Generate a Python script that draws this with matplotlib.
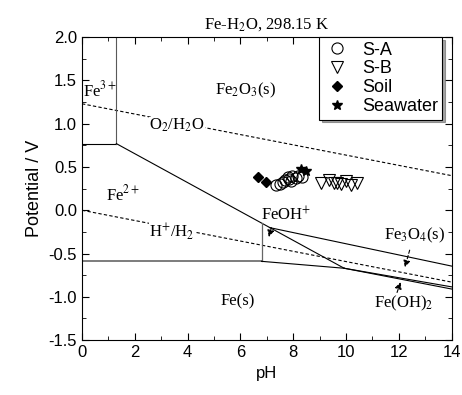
import numpy as np
import matplotlib.pyplot as plt

#%% Données

ph_water = np.array([0, 14])
o2_h2o = np.array([1.23, 0.40])
h_h2 = np.array([0.0, -0.83])

# frontieres du diagramme (pH, E)
fe3_fe2_ph, fe3_fe2_e = [0, 1.3], [0.77, 0.77]
fe3_fe2o3_ph, fe3_fe2o3_e = [1.3, 1.3], [0.77, 2.0]
diag_ph, diag_e = [1.3, 9.93], [0.77, -0.67]
fe2_fe_ph, fe2_fe_e = [0, 6.8], [-0.59, -0.59]
fe2_feoh_ph, fe2_feoh_e = [6.8, 6.8], [-0.59, -0.15]
feoh_fe_ph, feoh_fe_e = [6.8, 9.93], [-0.59, -0.67]
fe2o3_fe3o4_ph, fe2o3_fe3o4_e = [7.1, 14], [-0.20, -0.645]
fe3o4_feoh2_ph, fe3o4_feoh2_e = [9.93, 14], [-0.67, -0.885]
feoh2_fe_ph, feoh2_fe_e = [9.93, 14], [-0.67, -0.91]

# mesures
sa_ph = [7.35, 7.5, 7.6, 7.7, 7.8, 7.85, 7.95, 8.1, 8.2, 8.35, 7.9]
sa_e = [0.29, 0.30, 0.33, 0.35, 0.38, 0.36, 0.40, 0.37, 0.39, 0.38, 0.34]
sb_ph = [9.07, 9.37, 9.56, 9.67, 9.81, 10.0, 10.2, 10.4]
sb_e = [0.31, 0.35, 0.31, 0.32, 0.30, 0.34, 0.29, 0.31]
soil_ph = [6.65, 6.98]
soil_e = [0.38, 0.33]
sea_ph = [8.3, 8.5]
sea_e = [0.48, 0.45]

#%% Graphique

plt.rcParams['font.family'] = ['Liberation Sans', 'DejaVu Sans']
plt.rcParams['mathtext.fontset'] = 'stix'
serif = ['Liberation Serif', 'DejaVu Serif']

fig = plt.figure(figsize=(4.62, 3.95), dpi=100)
ax = fig.add_axes([0.1775, 0.139, 0.8, 0.767])

ax.plot(ph_water, o2_h2o, color='black', lw=0.8, ls=(0, (3, 2)))
ax.plot(ph_water, h_h2, color='black', lw=0.8, ls=(0, (3, 2)))

ax.plot(fe3_fe2_ph, fe3_fe2_e, color='black', lw=0.8)
ax.plot(fe3_fe2o3_ph, fe3_fe2o3_e, color='0.35', lw=0.8)
ax.plot(diag_ph, diag_e, color='black', lw=0.8)
ax.plot(fe2_fe_ph, fe2_fe_e, color='0.4', lw=1.2)
ax.plot(fe2_feoh_ph, fe2_feoh_e, color='0.4', lw=0.9)
ax.plot(feoh_fe_ph, feoh_fe_e, color='black', lw=0.8)
ax.plot(fe2o3_fe3o4_ph, fe2o3_fe3o4_e, color='black', lw=0.8)
ax.plot(fe3o4_feoh2_ph, fe3o4_feoh2_e, color='black', lw=0.8)
ax.plot(feoh2_fe_ph, feoh2_fe_e, color='black', lw=0.8)

ax.plot(sa_ph, sa_e, 'o', mfc='none', mec='black', ms=8, mew=0.8, label='S-A')
ax.plot(sb_ph, sb_e, 'v', mfc='none', mec='black', ms=9, mew=0.8, label='S-B')
ax.plot(soil_ph, soil_e, 'D', color='black', ms=5.5, label='Soil')
ax.plot(sea_ph, sea_e, '*', color='black', ms=7, label='Seawater')

# étiquettes des domaines
fs = 12
ax.text(0.05, 1.38, 'Fe$^{3+}$', fontsize=fs, family=serif, va='center')
ax.text(6.2, 1.38, 'Fe$_2$O$_3$(s)', fontsize=fs, family=serif, ha='center', va='center')
ax.text(3.6, 0.98, 'O$_2$/H$_2$O', fontsize=fs, family=serif, ha='center', va='center',
        bbox=dict(facecolor='white', edgecolor='none', pad=0))
ax.text(1.55, 0.18, 'Fe$^{2+}$', fontsize=fs, family=serif, ha='center', va='center')
ax.text(3.4, -0.24, 'H$^{+}$/H$_2$', fontsize=fs, family=serif, ha='center', va='center',
        bbox=dict(facecolor='white', edgecolor='none', pad=0))
ax.text(7.75, -0.06, 'FeOH$^{+}$', fontsize=fs, family=serif, ha='center', va='center')
ax.text(12.6, -0.29, 'Fe$_3$O$_4$(s)', fontsize=fs, family=serif, ha='center', va='center')
ax.text(5.9, -1.05, 'Fe(s)', fontsize=fs, family=serif, ha='center', va='center')
ax.text(12.2, -1.08, 'Fe(OH)$_2$', fontsize=fs, family=serif, ha='center', va='center')

arrow = dict(arrowstyle='-|>', color='black', lw=0.8, ls=(0, (3, 2)), mutation_scale=10)
ax.annotate('', xy=(7.05, -0.34), xytext=(7.2, -0.17), arrowprops=arrow)
ax.annotate('', xy=(12.2, -0.69), xytext=(12.44, -0.43), arrowprops=arrow)
ax.annotate('', xy=(12.1, -0.80), xytext=(11.9, -0.98), arrowprops=arrow)

ax.set_xlim(0, 14)
ax.set_ylim(-1.5, 2.0)
ax.set_xticks(np.arange(0, 15, 2))
ax.set_xticks(np.arange(0, 15, 1), minor=True)
ax.set_yticks(np.arange(-1.5, 2.01, 0.5))
ax.set_yticks(np.arange(-1.5, 2.01, 0.25), minor=True)
ax.yaxis.set_major_formatter(plt.FormatStrFormatter('%.1f'))
ax.tick_params(which='both', direction='in', top=True, right=True, labelsize=12)
ax.tick_params(which='major', length=5)
ax.tick_params(which='minor', length=3)
ax.set_xlabel('pH', fontsize=12)
ax.set_ylabel('Potential / V', fontsize=13)
ax.set_title('Fe-H$_2$O, 298.15 K', fontsize=12, family=serif, pad=6)

leg = ax.legend(loc='upper right', bbox_to_anchor=(0.975, 1.0), borderaxespad=0,
                fontsize=13, frameon=True, fancybox=False, shadow=True, edgecolor='black',
                borderpad=0.25, labelspacing=0.1, handletextpad=0.6, handlelength=1.5)
leg.get_frame().set_linewidth(0.8)

plt.savefig('out.png', dpi=100)
